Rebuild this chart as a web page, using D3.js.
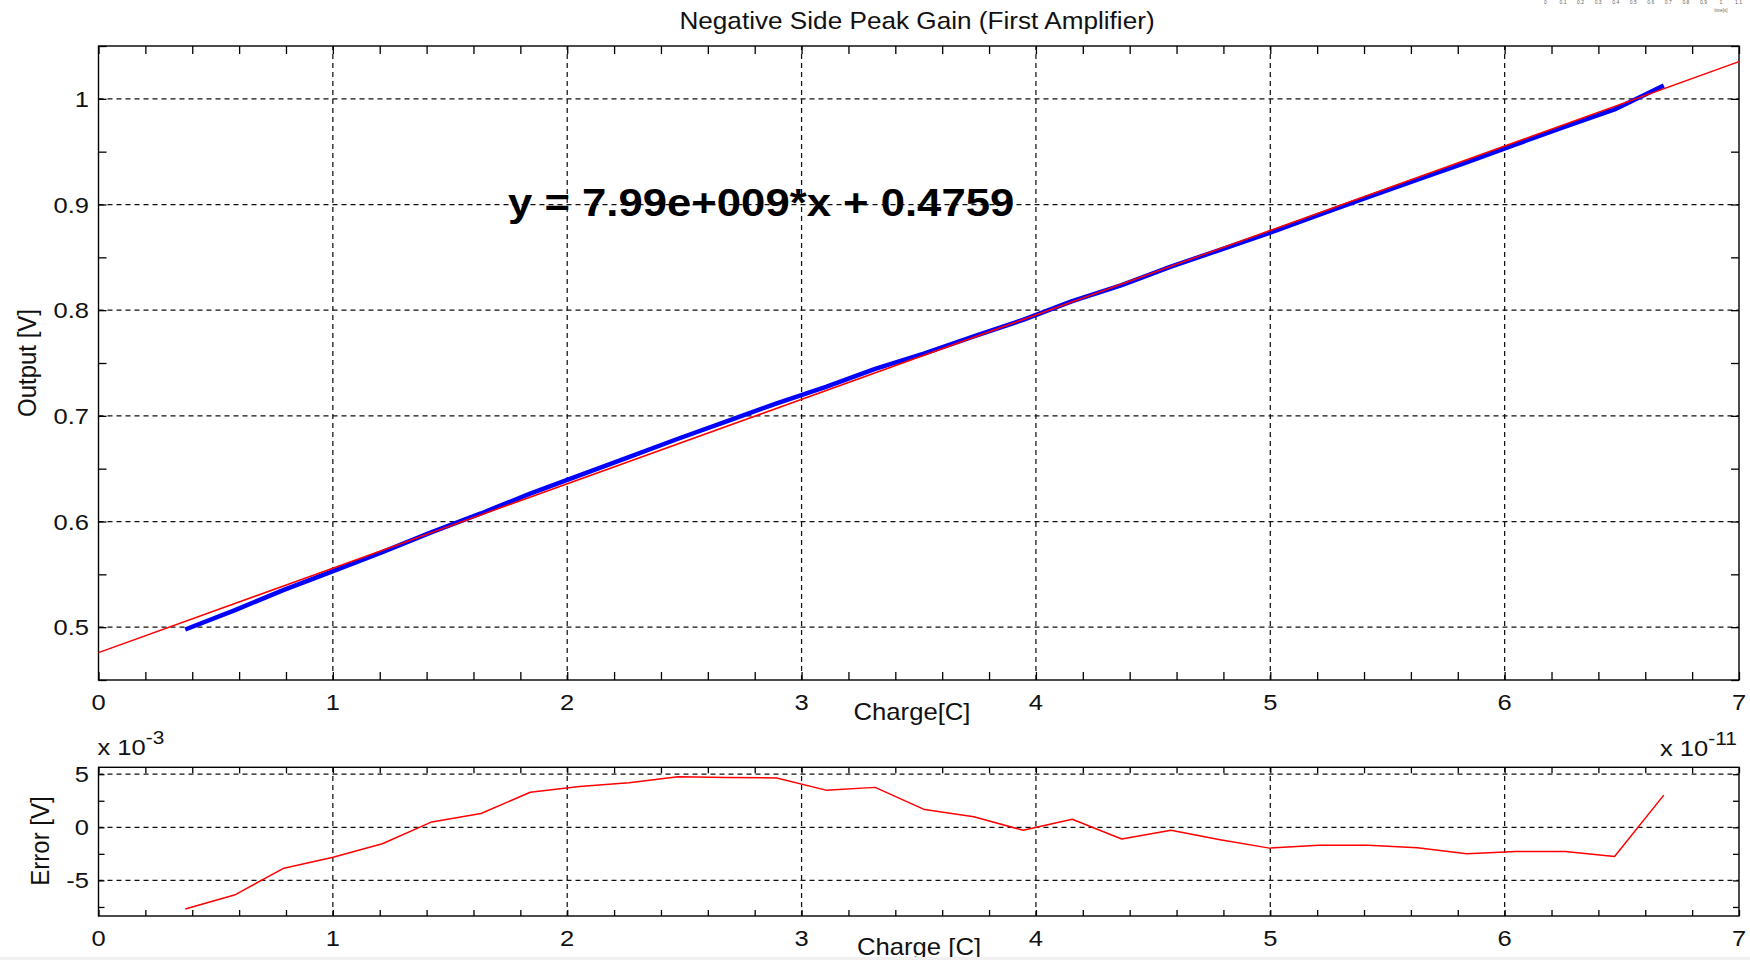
<!DOCTYPE html>
<html>
<head>
<meta charset="utf-8">
<script src="https://cdn.jsdelivr.net/npm/d3@7"></script>
<style>
  body { margin: 0; background: #fff; }
  text { font-family: Arial, "Liberation Sans", sans-serif; fill: #111; }
</style>
</head>
<body>
<svg id="fig" width="1750" height="960"></svg>
<script>
// Charge in units of 1e-11 C
const charge = [0.370, 0.580, 0.791, 1.001, 1.211, 1.422, 1.632, 1.842, 2.052, 2.263,
                2.473, 2.683, 2.894, 3.104, 3.314, 3.525, 3.735, 3.945, 4.155, 4.366,
                4.576, 4.786, 4.997, 5.207, 5.417, 5.628, 5.838, 6.048, 6.258, 6.469, 6.679];
// Measured peak output [V]
const outputV = [0.4978, 0.5159, 0.5353, 0.5531, 0.5711, 0.5900, 0.6076, 0.6264, 0.6437, 0.6609,
                 0.6783, 0.6950, 0.7118, 0.7274, 0.7445, 0.7592, 0.7753, 0.7908, 0.8086, 0.8236,
                 0.8412, 0.8571, 0.8732, 0.8902, 0.9070, 0.9236, 0.9399, 0.9569, 0.9736, 0.9900, 1.0126];
// Residual of the linear fit, units of 1e-3 V
const errorMV = [-7.70, -6.38, -3.85, -2.81, -1.55, 0.51, 1.30, 3.30, 3.85, 4.20,
                 4.77, 4.70, 4.64, 3.50, 3.76, 1.67, 1.00, -0.28, 0.76, -1.10,
                 -0.28, -1.17, -1.96, -1.70, -1.70, -1.93, -2.49, -2.27, -2.27, -2.75, 3.03];
// Linear fit y = slope*x + intercept (x in C)
const fitSlope = 7.99e9;
const fitIntercept = 0.4759;
const fitRange = [0, 7];

const chargeTicks = [0, 1, 2, 3, 4, 5, 6, 7];
const chargeMinor = d3.range(0, 35).map(i => i / 5).filter(v => Math.abs(v - Math.round(v)) > 1e-9);
const outputTicks = [0.5, 0.6, 0.7, 0.8, 0.9, 1];
const outputMinor = [0.45, 0.55, 0.65, 0.75, 0.85, 0.95, 1.05];
const errorTicks = [-5, 0, 5];
const errorMinor = [-7.5, -2.5, 2.5];
const timeTicks = [0, 0.1, 0.2, 0.3, 0.4, 0.5, 0.6, 0.7, 0.8, 0.9, 1, 1.1];

const SX = 1.16;       // horizontal text stretch
const svg = d3.select("#fig");

const x = d3.scaleLinear().domain([0, 7]).range([98.5, 1739]);
const yMain = d3.scaleLinear().domain([0.45, 1.05]).range([680, 46]);
const yErr = d3.scaleLinear().domain([-8.35, 5.65]).range([916, 767.3]);

function txt(g, px, py, s, size, anchor, sx, extra) {
  const t = g.append("text")
    .attr("transform", `translate(${px},${py}) scale(${sx},1)` + (extra || ""))
    .attr("text-anchor", anchor)
    .style("font-size", size + "px")
    .text(s);
  return t;
}

function drawAxes(yScale, yMajors, yMinors, tickLen, yFmt) {
  const g = svg.append("g");
  const [x0, x1] = x.range();
  const [yb, yt] = yScale.range();

  // dashed grid at major ticks
  const grid = g.append("g").attr("stroke", "#111").attr("stroke-width", 1.25)
    .attr("stroke-dasharray", "5,4").attr("fill", "none");
  chargeTicks.filter(v => v > 0 && v < 7).forEach(v => {
    grid.append("line").attr("x1", x(v)).attr("x2", x(v)).attr("y1", yb).attr("y2", yt);
  });
  yMajors.forEach(v => {
    grid.append("line").attr("x1", x0).attr("x2", x1).attr("y1", yScale(v)).attr("y2", yScale(v));
  });

  // inward ticks on all four sides
  const xAll = chargeTicks.concat(chargeMinor);
  const yAll = yMajors.concat(yMinors);
  const axes = [
    [d3.axisBottom(x).tickValues(xAll), `translate(0,${yb})`],
    [d3.axisTop(x).tickValues(xAll), `translate(0,${yt})`],
    [d3.axisLeft(yScale).tickValues(yAll), `translate(${x0},0)`],
    [d3.axisRight(yScale).tickValues(yAll), `translate(${x1},0)`]
  ];
  axes.forEach(([ax, tr]) => {
    const a = g.append("g").attr("transform", tr)
      .call(ax.tickSizeInner(-tickLen).tickSizeOuter(0).tickFormat(""));
    a.select(".domain").remove();
    a.selectAll(".tick line").attr("stroke", "#000").attr("stroke-width", 1.3);
  });

  // box
  g.append("rect").attr("x", x0).attr("y", yt).attr("width", x1 - x0).attr("height", yb - yt)
    .attr("fill", "none").attr("stroke", "#000").attr("stroke-width", 1.4);

  // tick labels
  chargeTicks.forEach(v => txt(g, x(v), yb + 29.5, String(v), 22, "middle", SX));
  yMajors.forEach(v => txt(g, 89, yScale(v) + 8, yFmt(v), 22, "end", SX));
  return g;
}

// ---------- upper panel: output vs charge ----------
const gMain = drawAxes(yMain, outputTicks, outputMinor, 8, v => d3.format("")(v));

const lineMain = d3.line().x(d => x(d[0])).y(d => yMain(d[1]));
svg.append("path")
  .datum(charge.map((c, i) => [c, outputV[i]]))
  .attr("d", lineMain)
  .attr("fill", "none").attr("stroke", "#0000ff").attr("stroke-width", 4.5)
  .attr("stroke-linejoin", "round");

svg.append("path")
  .datum(fitRange.map(c => [c, fitSlope * c * 1e-11 + fitIntercept]))
  .attr("d", lineMain)
  .attr("fill", "none").attr("stroke", "#ff0000").attr("stroke-width", 1.5);

// fit equation
svg.append("text")
  .attr("transform", `translate(508,216) scale(1.12,1)`)
  .style("font-size", "39px").style("font-weight", "bold").style("fill", "#000")
  .text(`y = ${d3.format(".2f")(fitSlope / 1e9)}e+009*x + ${fitIntercept}`);

// ---------- lower panel: error vs charge ----------
const gErr = drawAxes(yErr, errorTicks, errorMinor, 6, v => String(v));

const lineErr = d3.line().x(d => x(d[0])).y(d => yErr(d[1]));
svg.append("path")
  .datum(charge.map((c, i) => [c, errorMV[i]]))
  .attr("d", lineErr)
  .attr("fill", "none").attr("stroke", "#ff0000").attr("stroke-width", 1.5)
  .attr("stroke-linejoin", "round");

// ---------- titles and labels ----------
txt(svg, 917, 29, "Negative Side Peak Gain (First Amplifier)", 24, "middle", 1.09);
txt(svg, 912, 719.5, "Charge[C]", 24, "middle", 1.07);
txt(svg, 919, 955, "Charge [C]", 24, "middle", 1.07);

svg.append("text")
  .attr("transform", `translate(35.5,363) scale(1.1,1) rotate(-90)`)
  .attr("text-anchor", "middle").style("font-size", "24px").text("Output [V]");
svg.append("text")
  .attr("transform", `translate(48.5,841) scale(1.1,1) rotate(-90)`)
  .attr("text-anchor", "middle").style("font-size", "24px").text("Error [V]");

// exponent labels
function expLabel(px, py, base, exp) {
  const t = svg.append("text")
    .attr("transform", `translate(${px},${py}) scale(${SX},1)`)
    .style("font-size", "22px");
  t.append("tspan").text(base);
  t.append("tspan").attr("dy", -11).style("font-size", "18px").text(exp);
}
expLabel(97.5, 755, "x 10", "-3");
expLabel(1660, 756, "x 10", "-11");

// small time axis labels along the top edge
const xTime = d3.scaleLinear().domain([0, 1]).range([1545.5, 1721]);
const gTime = svg.append("g");
timeTicks.forEach(v => {
  gTime.append("text").attr("x", xTime(v)).attr("y", 3.5).attr("text-anchor", "middle")
    .style("font-size", "5px").style("fill", "#666").text(String(v));
});
gTime.append("text").attr("x", xTime(1)).attr("y", 11.5).attr("text-anchor", "middle")
  .style("font-size", "4.5px").style("fill", "#666").text("time[s]");

// window strip at the bottom edge
svg.append("rect").attr("x", 0).attr("y", 957).attr("width", 1750).attr("height", 3).attr("fill", "#f0f0f0");
</script>
</body>
</html>
